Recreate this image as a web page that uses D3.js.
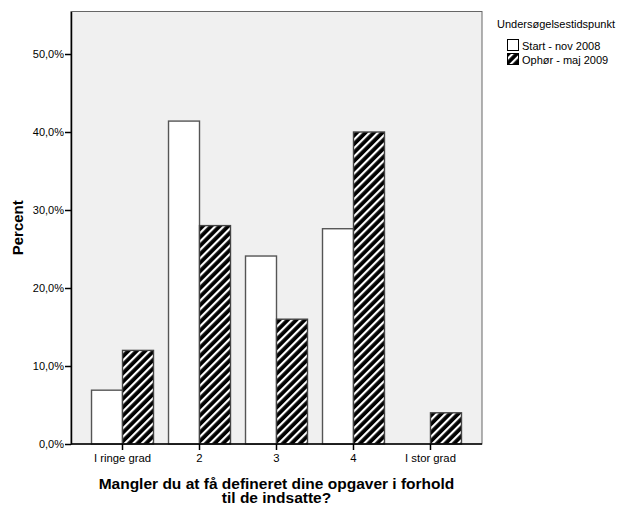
<!DOCTYPE html>
<html>
<head>
<meta charset="utf-8">
<script src="https://cdn.jsdelivr.net/npm/d3@7"></script>
<style>
  body { margin: 0; background: #fff; }
  text { font-family: "Liberation Sans", Arial, sans-serif; }
</style>
</head>
<body>
<div id="chart"></div>
<script>
// data
const categories = ["I ringe grad", "2", "3", "4", "I stor grad"];
const seriesNames = ["Start - nov 2008", "Ophør - maj 2009"];
const startValues = [6.9, 41.4, 24.1, 27.6, 0];
const stopValues = [12.0, 28.0, 16.0, 40.0, 4.0];
const yTicks = [0, 10, 20, 30, 40, 50];
const xTitle = ["Mangler du at få defineret dine opgaver i forhold", "til de indsatte?"];

const w = 620, h = 506;
const m = {top: 11.5, right: 138, bottom: 62, left: 71};

const svg = d3.select("#chart").append("svg")
    .attr("width", w)
    .attr("height", h);

// hatch pattern for the second series
const defs = svg.append("defs");
const pat = defs.append("pattern")
    .attr("id", "hatch")
    .attr("patternUnits", "userSpaceOnUse")
    .attr("width", 6)
    .attr("height", 6)
    .attr("patternTransform", "rotate(45)");
pat.append("rect").attr("width", 6).attr("height", 6).attr("fill", "#000");
pat.append("rect").attr("x", 0).attr("width", 2.2).attr("height", 6).attr("fill", "#fff");

const x = d3.scaleBand()
    .domain(categories)
    .range([m.left, w - m.right])
    .paddingInner(0.195)
    .paddingOuter(0.2665);

const x1 = d3.scaleBand()
    .domain([0, 1])
    .range([0, x.bandwidth()]);

const y = d3.scaleLinear()
    .domain([0, 55.45])
    .range([h - m.bottom, m.top]);

// plot background
svg.append("rect")
    .attr("x", m.left)
    .attr("y", m.top)
    .attr("width", w - m.right - m.left)
    .attr("height", h - m.bottom - m.top)
    .attr("fill", "#f0f0f0")
    .attr("stroke", "#666")
    .attr("stroke-width", 1);

const rows = categories.map((c, i) => ({cat: c, vals: [startValues[i], stopValues[i]]}));

const groups = svg.append("g")
    .selectAll("g")
    .data(rows)
    .enter()
    .append("g")
    .attr("transform", (d) => "translate(" + x(d.cat) + ",0)");

groups.selectAll("rect")
    .data((d) => d.vals.map((v, k) => ({k: k, v: v})).filter((e) => e.v > 0))
    .enter()
    .append("rect")
    .attr("x", (d) => x1(d.k))
    .attr("y", (d) => y(d.v))
    .attr("width", x1.bandwidth())
    .attr("height", (d) => y(0) - y(d.v))
    .attr("fill", (d) => d.k === 0 ? "#fff" : "url(#hatch)")
    .attr("stroke", (d) => d.k === 0 ? "#555" : "#444")
    .attr("stroke-width", 1.4);

// y axis
const yAxis = svg.append("g")
    .attr("transform", "translate(" + m.left + ",0)")
    .call(d3.axisLeft(y).tickValues(yTicks).tickSize(6).tickSizeOuter(0)
        .tickFormat((d) => d.toFixed(1).replace(".", ",") + "%"));
yAxis.select(".domain").attr("stroke", "#000").attr("stroke-width", 1.5);
yAxis.selectAll(".tick line").attr("stroke", "#000").attr("stroke-width", 1.5);
yAxis.selectAll(".tick text").attr("font-size", 11).attr("fill", "#000").attr("x", -7);

// x axis
const xAxis = svg.append("g")
    .attr("transform", "translate(0," + (h - m.bottom) + ")")
    .call(d3.axisBottom(x).tickSize(6).tickSizeOuter(0));
xAxis.select(".domain").attr("stroke", "#000").attr("stroke-width", 1.5)
    .attr("d", "M" + m.left + ",0H" + (w - m.right));
xAxis.selectAll(".tick line").attr("stroke", "#000").attr("stroke-width", 1.5);
xAxis.selectAll(".tick text").attr("font-size", 11.3).attr("fill", "#000").attr("y", 10);

// axis titles
svg.append("text")
    .attr("transform", "translate(23," + ((m.top + h - m.bottom) / 2) + ") rotate(-90)")
    .attr("text-anchor", "middle")
    .attr("font-size", 15)
    .attr("font-weight", "bold")
    .text("Percent");

// two-line x title as a single text element
const cx = (m.left + w - m.right) / 2;
svg.append("text")
    .attr("text-anchor", "middle")
    .attr("font-size", 15.5)
    .attr("font-weight", "bold")
    .selectAll("tspan")
    .data(xTitle)
    .enter()
    .append("tspan")
    .attr("x", cx)
    .attr("y", (d, i) => 489 + i * 14)
    .text((d) => d);

// legend
const lg = svg.append("g").attr("transform", "translate(497,0)");
lg.append("text")
    .attr("x", 0).attr("y", 28)
    .attr("font-size", 11)
    .text("Undersøgelsestidspunkt");
seriesNames.forEach((s, k) => {
    lg.append("rect")
        .attr("x", 10.5).attr("y", 39.5 + k * 14)
        .attr("width", 11).attr("height", 11)
        .attr("fill", k === 0 ? "#fff" : "url(#hatch)")
        .attr("stroke", "#000")
        .attr("stroke-width", 1);
    lg.append("text")
        .attr("x", 25).attr("y", 49.5 + k * 14)
        .attr("font-size", 11)
        .text(s);
});
</script>
</body>
</html>
